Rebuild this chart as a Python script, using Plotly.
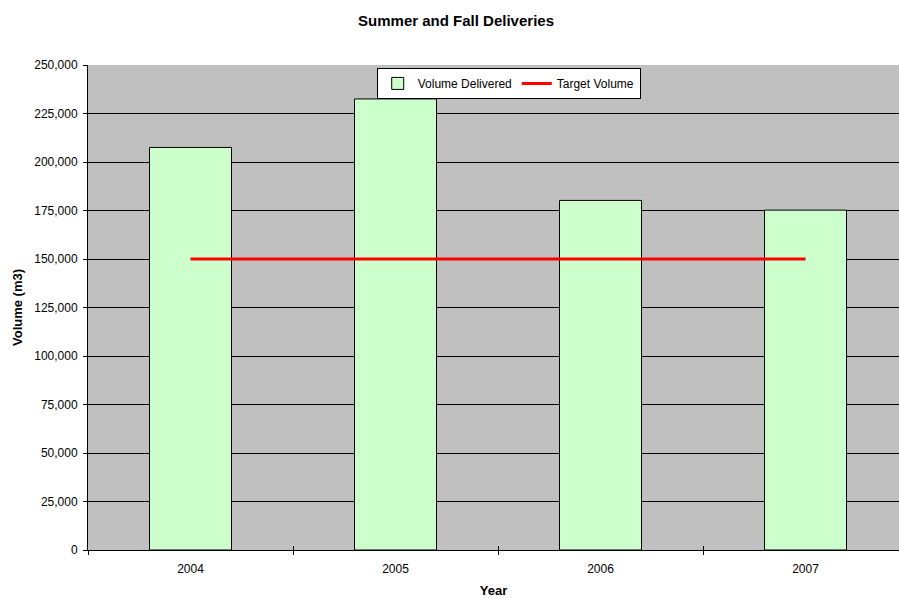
import plotly.graph_objects as go

# Seasonal delivery volumes and the fixed delivery target
years = ["2004", "2005", "2006", "2007"]
volume_delivered = [207500, 232500, 180200, 175200]
target_volume = [150000, 150000, 150000, 150000]
y_ticks = [0, 25000, 50000, 75000, 100000, 125000, 150000, 175000, 200000, 225000, 250000]

FONT = "Liberation Sans, Arial, sans-serif"

fig = go.Figure()

fig.add_trace(go.Bar(
    x=years, y=volume_delivered, name="Volume Delivered",
    marker=dict(color="#CCFFCC", line=dict(color="#000000", width=1)),
    width=0.4,
))

fig.add_trace(go.Scatter(
    x=years, y=target_volume, name="Target Volume", mode="lines",
    line=dict(color="#FF0000", width=3),
    xaxis="x2",
))

x_range = [-0.5, 3.456]

fig.update_layout(
    width=899, height=598,
    margin=dict(l=88, r=0, t=65, b=48),
    paper_bgcolor="#FFFFFF",
    plot_bgcolor="#C0C0C0",
    font=dict(family=FONT, size=12, color="#000000"),
    title=dict(
        text="<b>Summer and Fall Deliveries</b>",
        font=dict(family=FONT, size=15, color="#000000"),
        x=0.4538, xref="paper", xanchor="center",
        y=0.966, yref="container", yanchor="middle",
    ),
    showlegend=True,
    legend=dict(
        orientation="h",
        x=0.356, xanchor="left", y=0.994, yanchor="top",
        bgcolor="#FFFFFF", bordercolor="#000000", borderwidth=1,
        font=dict(family=FONT, size=12, color="#000000"),
        itemwidth=30, tracegroupgap=0,
    ),
    bargap=0.6,
    xaxis=dict(
        type="category", range=x_range,
        showline=True, linecolor="#000000", linewidth=1,
        ticks="outside", ticklen=4, tickcolor="#000000", tickwidth=1,
        tickson="boundaries", ticklabelstandoff=8,
        showgrid=False, zeroline=False,
        tickfont=dict(family=FONT, size=12, color="#000000"),
        title=dict(text="<b>Year</b>", font=dict(family=FONT, size=13, color="#000000"), standoff=11),
    ),
    xaxis2=dict(
        type="category", range=x_range, overlaying="x", side="bottom",
        showline=False, showticklabels=False,
        ticks="inside", ticklen=4, tickcolor="#000000", tickwidth=1,
        tickson="boundaries", showgrid=False, zeroline=False,
    ),
    yaxis=dict(
        range=[0, 250000],
        tickvals=y_ticks,
        tickformat=",d",
        showline=True, linecolor="#000000", linewidth=1,
        ticks="outside", ticklen=4, tickcolor="#000000", tickwidth=1,
        ticklabelstandoff=3,
        showgrid=True, gridcolor="#000000", gridwidth=1,
        zeroline=False,
        tickfont=dict(family=FONT, size=12, color="#000000"),
        title=dict(text="<b>Volume (m3)</b>", font=dict(family=FONT, size=13, color="#000000"), standoff=8),
    ),
)

fig.write_html("out.html")
